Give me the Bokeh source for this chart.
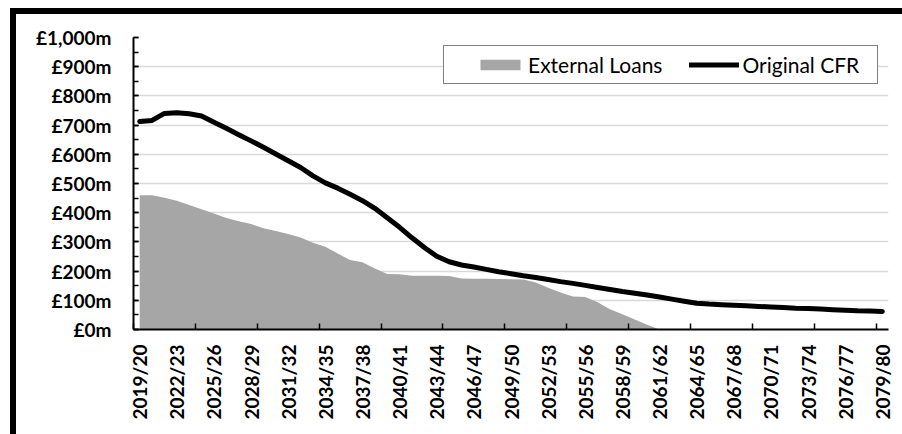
import math
from bokeh.plotting import figure
from bokeh.models import FixedTicker, Legend, LegendItem, ColumnDataSource
from bokeh.embed import file_html
from bokeh.resources import INLINE

# ---- data ----
start_years = list(range(2019, 2080))
years = [f"{y}/{(y + 1) % 100:02d}" for y in start_years]

external_loans = [460, 460, 451, 441, 426, 412, 397, 382, 371, 361,
                  347, 337, 327, 315, 297, 283, 260, 238, 230, 209,
                  190, 189, 184, 184, 184, 183, 175, 174, 174, 173,
                  172, 171, 161, 143, 127, 113, 111, 93, 69, 52,
                  34, 16, 0, 0, 0, 0, 0, 0, 0, 0,
                  0, 0, 0, 0, 0, 0, 0, 0, 0, 0, 0]

original_cfr = [712, 716, 740, 742, 739, 731, 710, 689, 667, 646,
                624, 601, 578, 555, 526, 502, 484, 463, 441, 415,
                383, 350, 314, 281, 251, 232, 221, 214, 206, 198,
                191, 184, 178, 171, 164, 158, 151, 144, 137, 130,
                124, 118, 111, 104, 97, 90, 87, 85, 83, 81,
                79, 77, 75, 73, 72, 70, 68, 66, 64, 63, 62]

y_ticks = list(range(0, 1001, 100))
y_minor = list(range(0, 1001, 50))
y_tick_labels = {v: f"£{v:,}m" for v in y_ticks}
label_every = 3
tick_every = 5

# ---- figure ----
n = len(years)
xs = [i + 0.5 for i in range(n)]
source = ColumnDataSource(dict(x=xs, loans=external_loans, cfr=original_cfr, zero=[0] * n))

p = figure(width=892, height=426, x_range=(0, n), y_range=(0, 1000),
           output_backend="svg", toolbar_location=None,
           min_border_left=117, min_border_right=20,
           min_border_top=23, min_border_bottom=111)
p.styles = {"border-left": "6px solid black", "border-top": "6px solid black",
            "border-right": "none", "border-bottom": "none",
            "margin-left": "10px", "margin-top": "8px"}
p.outline_line_color = None
p.background_fill_color = "white"
p.border_fill_color = "white"

area = p.varea(x="x", y1="zero", y2="loans", source=source, fill_color="#a6a6a6")
line = p.line(x="x", y="cfr", source=source, line_color="black", line_width=5,
              line_cap="round", line_join="round")

# y axis
yax = p.yaxis[0]
yax.ticker = FixedTicker(ticks=y_ticks, minor_ticks=y_minor)
yax.major_label_overrides = y_tick_labels
yax.major_tick_in = 5
yax.major_tick_out = 0
yax.minor_tick_in = 5
yax.minor_tick_out = 0
yax.major_tick_line_color = "black"
yax.minor_tick_line_color = "black"
yax.major_tick_line_width = 1.5
yax.minor_tick_line_width = 1.5
yax.axis_line_width = 2
yax.axis_line_color = "black"
yax.major_label_text_font = "Lato"
yax.major_label_text_font_style = "bold"
yax.major_label_text_font_size = "19px"
yax.major_label_text_color = "black"
yax.major_label_standoff = 22

# x axis
label_pos = [i + 0.5 for i in range(0, n, label_every)]
xax = p.xaxis[0]
xax.ticker = FixedTicker(ticks=label_pos, minor_ticks=list(range(0, n, tick_every)))
xax.major_label_overrides = {i + 0.5: years[i] for i in range(0, n, label_every)}
xax.major_tick_line_color = None
xax.major_tick_in = 0
xax.major_tick_out = 0
xax.minor_tick_in = 6
xax.minor_tick_out = 0
xax.minor_tick_line_color = "black"
xax.minor_tick_line_width = 1.5
xax.axis_line_width = 2
xax.axis_line_color = "black"
xax.major_label_orientation = math.pi / 2
xax.major_label_text_font = "Lato"
xax.major_label_text_font_style = "bold"
xax.major_label_text_font_size = "19px"
xax.major_label_text_color = "black"
xax.major_label_standoff = 15

p.xgrid.visible = False
p.ygrid.grid_line_color = "#d9d9d9"
p.ygrid.grid_line_width = 1.5

legend = Legend(items=[LegendItem(label="External Loans", renderers=[area]),
                       LegendItem(label="Original CFR", renderers=[line])],
                orientation="horizontal", location=(310, 245))
legend.border_line_color = "black"
legend.border_line_width = 1.5
legend.background_fill_color = "white"
legend.background_fill_alpha = 1
legend.spacing = 27
legend.glyph_width = 50
legend.glyph_height = 13
legend.label_standoff = 3
legend.label_text_font = "Lato"
legend.label_text_font_size = "21px"
legend.label_text_color = "black"
legend.margin = 0
try:
    legend.padding = dict(left=31, right=18, top=6, bottom=6)
except Exception:
    try:
        legend.padding = (31, 18, 6, 6)
    except Exception:
        legend.padding = 10
p.add_layout(legend)

open("out.html", "w").write(file_html(p, INLINE))
